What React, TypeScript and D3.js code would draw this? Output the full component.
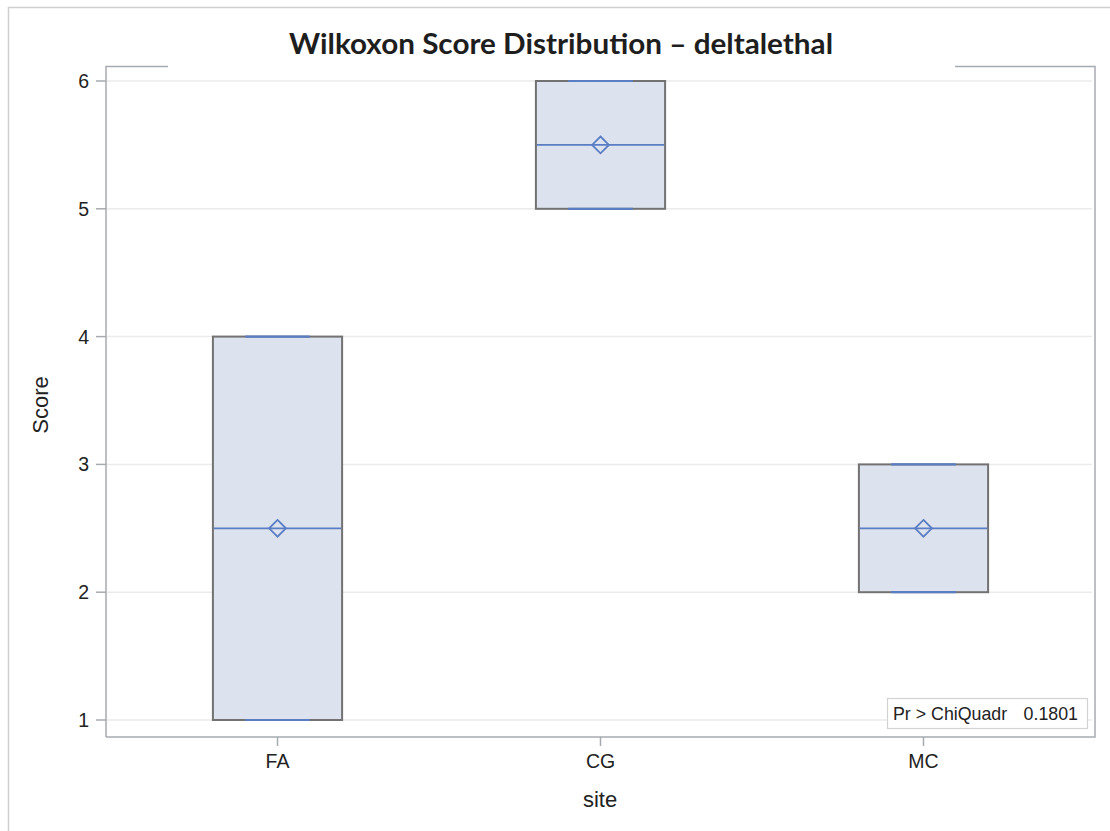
import React from "react";
import * as d3 from "d3";

// Wilcoxon score summaries per site
const sites = ["FA", "CG", "MC"];
const mins = [1, 5, 2];
const q1s = [1, 5, 2];
const medians = [2.5, 5.5, 2.5];
const means = [2.5, 5.5, 2.5];
const q3s = [4, 6, 3];
const maxs = [4, 6, 3];
const yTicks = [1, 2, 3, 4, 5, 6];
const titleText = "Wilkoxon Score Distribution \u2013 deltalethal";
const statLabel = "Pr > ChiQuadr";
const statValue = "0.1801";

const W = 1110;
const H = 831;
const plot = { left: 106, top: 66, right: 1095, bottom: 737 };

const BLUE = "#5a7dc4";
const FILL = "#dce3ee";
const EDGE = "#727272";
const FRAME = "#a6abb0";
const GRID = "#ebebeb";
const TXT = "#222";
const SANS = "'Liberation Sans', Arial, Helvetica, sans-serif";

export default function App() {
  const x = d3
    .scalePoint<string>()
    .domain(sites)
    .range([plot.left, plot.right])
    .padding(0.531);
  const y = d3.scaleLinear().domain([1, 6]).range([720, 81]);
  const boxW = x.step() * 0.4;
  const diamond = d3.symbol().type(d3.symbolDiamond2).size(180)();

  return (
    <svg
      width={W}
      height={H}
      style={{ position: "absolute", left: 0, top: 0, background: "#fff", fontFamily: SANS }}
    >
      {/* outer border */}
      <rect x={8.5} y={7.5} width={W} height={H} fill="none" stroke="#cfcfcf" strokeWidth={1.5} />

      {/* grid lines */}
      {yTicks.map((t) => (
        <line key={"g" + t} x1={plot.left} x2={plot.right - 3} y1={y(t)} y2={y(t)} stroke={GRID} strokeWidth={1.5} />
      ))}

      {/* boxes */}
      {sites.map((s, i) => {
        const cx = x(s)!;
        const x0 = cx - boxW / 2;
        const yTop = y(q3s[i]);
        const yBot = y(q1s[i]);
        return (
          <g key={s}>
            <rect x={x0} y={yTop} width={boxW} height={yBot - yTop} fill={FILL} stroke={EDGE} strokeWidth={2} />
            {/* whisker caps at max / min */}
            <line x1={cx - boxW / 4} x2={cx + boxW / 4} y1={y(maxs[i])} y2={y(maxs[i])} stroke={BLUE} strokeWidth={2.2} />
            <line x1={cx - boxW / 4} x2={cx + boxW / 4} y1={y(mins[i])} y2={y(mins[i])} stroke={BLUE} strokeWidth={2.2} />
            {/* median */}
            <line x1={x0 + 1} x2={x0 + boxW - 1} y1={y(medians[i])} y2={y(medians[i])} stroke={BLUE} strokeWidth={1.8} />
            {/* mean marker */}
            <path d={diamond!} transform={`translate(${cx},${y(means[i])})`} fill="none" stroke={BLUE} strokeWidth={1.8} />
          </g>
        );
      })}

      {/* plot frame, with the top line broken for the title */}
      <path
        d={`M${plot.left},${plot.bottom}V${plot.top + 0.5}H168 M955,${plot.top + 0.5}H${plot.right}V${plot.bottom}H${plot.left}`}
        fill="none"
        stroke={FRAME}
        strokeWidth={1.5}
      />

      {/* y axis */}
      {yTicks.map((t) => (
        <g key={"y" + t}>
          <line x1={96} x2={plot.left} y1={y(t)} y2={y(t)} stroke={FRAME} strokeWidth={1.5} />
          <text x={89} y={y(t)} dy="0.36em" textAnchor="end" fontSize={19.5} fill={TXT}>
            {t}
          </text>
        </g>
      ))}
      <text transform={`translate(48,405) rotate(-90)`} textAnchor="middle" fontSize={22} fill={TXT}>
        Score
      </text>

      {/* x axis */}
      {sites.map((s) => (
        <g key={"x" + s}>
          <line x1={x(s)} x2={x(s)} y1={plot.bottom} y2={plot.bottom + 9} stroke={FRAME} strokeWidth={1.5} />
          <text x={x(s)} y={768} textAnchor="middle" fontSize={19.5} fill={TXT}>
            {s}
          </text>
        </g>
      ))}
      <text x={600} y={807} textAnchor="middle" fontSize={22} fill={TXT}>
        site
      </text>

      {/* statistic inset */}
      <rect x={887.5} y={698.5} width={200} height={30} fill="#fff" stroke="#d3d3d3" strokeWidth={1.2} />
      <text x={893} y={720} fontSize={17.8} fill={TXT}>
        {statLabel}
      </text>
      <text x={1078} y={720} fontSize={17.8} fill={TXT} textAnchor="end">
        {statValue}
      </text>

      {/* title */}
      <text
        x={289}
        y={54}
        textLength={544}
        lengthAdjust="spacingAndGlyphs"
        fontFamily="Lato, 'Open Sans', sans-serif"
        fontWeight={700}
        fontSize={28}
        fill="#1e1e1e"
      >
        {titleText}
      </text>
    </svg>
  );
}
